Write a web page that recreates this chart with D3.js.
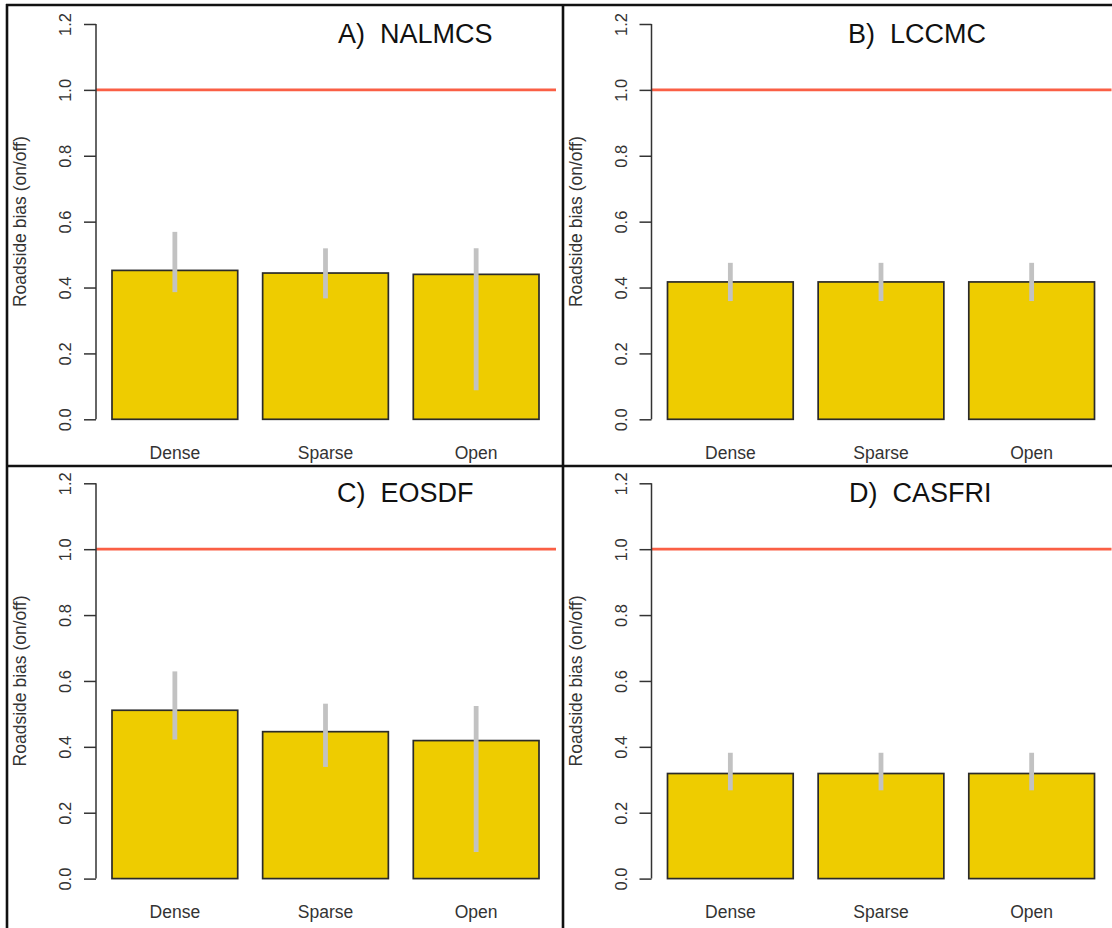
<!DOCTYPE html>
<html><head><meta charset="utf-8">
<script src="https://cdn.jsdelivr.net/npm/d3@7"></script>
<style>
html,body{margin:0;padding:0;background:#fff;}
text{font-family:"Liberation Sans",Arial,sans-serif;}
</style>
</head><body>
<svg id="chart" width="1112" height="928"></svg>
<script>
// ---- data ----
const categories = ["Dense", "Sparse", "Open"];
const panelTitles = ["A)  NALMCS", "B)  LCCMC", "C)  EOSDF", "D)  CASFRI"];
const yTicks = [0.0, 0.2, 0.4, 0.6, 0.8, 1.0, 1.2];
const referenceLine = 1.0;

const valuesA = [0.452, 0.444, 0.440];
const lowerA  = [0.386, 0.367, 0.088];
const upperA  = [0.569, 0.519, 0.519];

const valuesB = [0.417, 0.417, 0.417];
const lowerB  = [0.359, 0.359, 0.359];
const upperB  = [0.475, 0.475, 0.475];

const valuesC = [0.511, 0.446, 0.419];
const lowerC  = [0.422, 0.339, 0.081];
const upperC  = [0.629, 0.531, 0.524];

const valuesD = [0.319, 0.319, 0.319];
const lowerD  = [0.268, 0.268, 0.268];
const upperD  = [0.382, 0.382, 0.382];

const yLabel = "Roadside bias (on/off)";

// ---- layout ----
const svg = d3.select("#chart");
const panels = [
  {title: panelTitles[0], v: valuesA, lo: lowerA, hi: upperA, dx: 0,   dy: 0,     tx: 338},
  {title: panelTitles[1], v: valuesB, lo: lowerB, hi: upperB, dx: 555.5, dy: 0,   tx: 848},
  {title: panelTitles[2], v: valuesC, lo: lowerC, hi: upperC, dx: 0,   dy: 459.3, tx: 337},
  {title: panelTitles[3], v: valuesD, lo: lowerD, hi: upperD, dx: 555.5, dy: 459.3, tx: 849}
];

const fill = "#EECC00", barStroke = "#2a2a2a", errColor = "#C2C2C2", refColor = "#FA5F45";

panels.forEach(p => {
  const g = svg.append("g").attr("transform", `translate(${p.dx},${p.dy})`);
  const y = d3.scaleLinear().domain([0, 1.2]).range([419.3, 24]);
  const x = d3.scaleBand().domain(categories).range([112, 539])
      .paddingInner(25 / 151).paddingOuter(0);

  // bars
  g.selectAll("rect.bar").data(categories).join("rect")
    .attr("class", "bar")
    .attr("x", d => x(d))
    .attr("width", x.bandwidth())
    .attr("y", (d, i) => y(p.v[i]))
    .attr("height", (d, i) => y(0) - y(p.v[i]))
    .attr("fill", fill)
    .attr("stroke", barStroke)
    .attr("stroke-width", 1.7);

  // error bars
  g.selectAll("line.err").data(categories).join("line")
    .attr("class", "err")
    .attr("x1", d => x(d) + x.bandwidth() / 2)
    .attr("x2", d => x(d) + x.bandwidth() / 2)
    .attr("y1", (d, i) => y(p.lo[i]))
    .attr("y2", (d, i) => y(p.hi[i]))
    .attr("stroke", errColor)
    .attr("stroke-width", 4.8);

  // reference line
  g.append("line")
    .attr("x1", 96).attr("x2", 556)
    .attr("y1", y(referenceLine)).attr("y2", y(referenceLine))
    .attr("stroke", refColor).attr("stroke-width", 2.8);

  // y axis
  const axis = d3.axisLeft(y).tickValues(yTicks).tickSize(12)
      .tickFormat(d3.format(".1f"));
  const ag = g.append("g").attr("transform", "translate(96,0)").call(axis);
  ag.select(".domain").attr("stroke", "#333").attr("stroke-width", 1.5)
    .attr("d", `M0,${y(0)}V${y(1.2)}`);
  ag.selectAll(".tick line").attr("stroke", "#333").attr("stroke-width", 1.5);
  ag.selectAll(".tick text")
    .attr("x", null).attr("dy", null)
    .attr("transform", "translate(-25,0) rotate(-90)")
    .attr("text-anchor", "middle")
    .attr("font-size", 16.5)
    .attr("fill", "#333")
    .style("font-family", "'Liberation Sans',Arial,sans-serif");

  // category labels
  g.selectAll("text.cat").data(categories).join("text")
    .attr("class", "cat")
    .attr("x", d => x(d) + x.bandwidth() / 2)
    .attr("y", 459)
    .attr("text-anchor", "middle")
    .attr("font-size", 17.5)
    .attr("fill", "#333")
    .text(d => d);

  // y label
  g.append("text")
    .attr("transform", `translate(26,${(y(0) + y(1.2)) / 2}) rotate(-90)`)
    .attr("text-anchor", "middle")
    .attr("font-size", 17.5)
    .attr("fill", "#333")
    .text(yLabel);

  // title
  g.append("text")
    .attr("x", p.tx - p.dx).attr("y", 43)
    .attr("font-size", 27)
    .attr("fill", "#111")
    .style("white-space", "pre")
    .attr("xml:space", "preserve")
    .text(p.title);
});

// panel borders
const bc = "#111", bw = 2.6;
svg.append("line").attr("x1", 6).attr("x2", 1112).attr("y1", 5).attr("y2", 5).attr("stroke", bc).attr("stroke-width", bw);
svg.append("line").attr("x1", 7).attr("x2", 7).attr("y1", 4).attr("y2", 928).attr("stroke", bc).attr("stroke-width", bw);
svg.append("line").attr("x1", 563).attr("x2", 563).attr("y1", 4).attr("y2", 928).attr("stroke", bc).attr("stroke-width", bw);
svg.append("line").attr("x1", 6).attr("x2", 1112).attr("y1", 466).attr("y2", 466).attr("stroke", bc).attr("stroke-width", bw);
</script>
</body></html>
